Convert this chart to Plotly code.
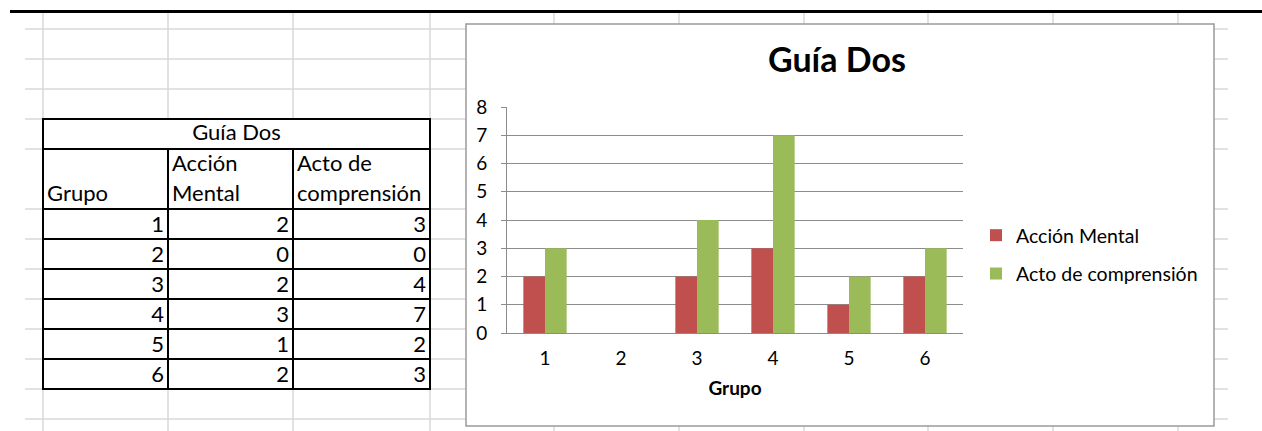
import plotly.graph_objects as go

# ---------------- data ----------------
grupos = [1, 2, 3, 4, 5, 6]
accion_mental = [2, 0, 2, 3, 1, 2]
acto_comprension = [3, 0, 4, 7, 2, 3]
series_names = ["Acción Mental", "Acto de comprensión"]
chart_title = "Guía Dos"
x_title = "Grupo"
y_ticks = [0, 1, 2, 3, 4, 5, 6, 7, 8]
table_title = "Guía Dos"
header_lines = [["", "Grupo"], ["Acción", "Mental"], ["Acto de", "comprensión"]]

# ---------------- layout constants (pixels) ----------------
W, H = 1262, 431
FONT = "Lato"
RED = "#C0504D"
GREEN = "#9BBB59"
AXIS_GRAY = "#8c8c8c"
SHEET_GRID = "#d9d9d9"


def px(x):
    return x / W


def py(y):
    return 1 - y / H


# spreadsheet grid geometry
row_heights = [30, 30, 30, 30, 60, 30, 30, 30, 30, 30, 30, 30]
row_lines = [29]
for h in row_heights:
    row_lines.append(row_lines[-1] + h)
col_lines = [43, 168, 293, 430, 554, 679, 804, 928, 1053, 1178]

# table geometry
T_X0, T_X1 = 43, 430
T_Y0 = 119
col_w = [125, 125, 137]
ROW = 30

# chart geometry
CH_X0, CH_Y0, CH_X1, CH_Y1 = 466, 24, 1214, 426
PL_X0, PL_X1 = 507, 963
PL_Y0, PL_Y1 = 333, 107  # value 0 and value 8

fig = go.Figure()

# bars
for name, vals, col in [(series_names[0], accion_mental, RED),
                        (series_names[1], acto_comprension, GREEN)]:
    fig.add_trace(go.Bar(
        x=grupos, y=vals, name=name, marker=dict(color=col, line=dict(width=0)),
        legendgroup=name, hoverinfo="skip",
    ))

# ---------------- table text (on a helper axis in table units) ----------------
n_rows = len(grupos)
tx, ty, tt, tpos = [], [], [], []
# merged title row
tx.append(sum(col_w) / 2); ty.append(0.5); tt.append(table_title); tpos.append("middle center")
# header rows (two lines)
col_left = [0, col_w[0], col_w[0] + col_w[1]]
col_right = [col_w[0], col_w[0] + col_w[1], sum(col_w)]
for c, lines in enumerate(header_lines):
    for li, s in enumerate(lines):
        if s:
            tx.append(col_left[c] + 4); ty.append(1.55 + li); tt.append(s); tpos.append("middle right")
# data rows
cols = [grupos, accion_mental, acto_comprension]
for r in range(n_rows):
    for c in range(3):
        tx.append(col_right[c] - 4); ty.append(3.58 + r); tt.append(str(cols[c][r])); tpos.append("middle left")

fig.add_trace(go.Scatter(
    x=tx, y=ty, text=tt, mode="text", textposition=tpos,
    textfont=dict(family=FONT, size=22, color="black"),
    xaxis="x2", yaxis="y2", showlegend=False, hoverinfo="skip", cliponaxis=False,
))

# ---------------- shapes ----------------
shapes = []
# spreadsheet gridlines
for y in row_lines:
    shapes.append(dict(type="line", xref="paper", yref="paper", x0=px(25), x1=px(1228),
                       y0=py(y), y1=py(y), line=dict(color=SHEET_GRID, width=1.5), layer="below"))
for x in col_lines:
    shapes.append(dict(type="line", xref="paper", yref="paper", x0=px(x), x1=px(x),
                       y0=py(13), y1=py(431), line=dict(color=SHEET_GRID, width=1.5), layer="below"))
# table white fill
T_Y1 = T_Y0 + ROW * (3 + n_rows)
shapes.append(dict(type="rect", xref="paper", yref="paper", x0=px(T_X0), x1=px(T_X1),
                   y0=py(T_Y0), y1=py(T_Y1), fillcolor="white", line=dict(width=0), layer="below"))
# table borders
tb = dict(color="black", width=2)
shapes.append(dict(type="rect", xref="paper", yref="paper", x0=px(T_X0), x1=px(T_X1),
                   y0=py(T_Y0), y1=py(T_Y1), line=tb, layer="below"))
for k in [1, 3] + [3 + i for i in range(1, n_rows)]:
    y = T_Y0 + ROW * k
    shapes.append(dict(type="line", xref="paper", yref="paper", x0=px(T_X0), x1=px(T_X1),
                       y0=py(y), y1=py(y), line=tb, layer="below"))
for x in [T_X0 + col_w[0], T_X0 + col_w[0] + col_w[1]]:
    shapes.append(dict(type="line", xref="paper", yref="paper", x0=px(x), x1=px(x),
                       y0=py(T_Y0 + ROW), y1=py(T_Y1), line=tb, layer="below"))
# chart area
shapes.append(dict(type="rect", xref="paper", yref="paper", x0=px(CH_X0), x1=px(CH_X1),
                   y0=py(CH_Y0), y1=py(CH_Y1), fillcolor="white",
                   line=dict(color="#9a9a9a", width=1.5), layer="below"))
# top black rule
shapes.append(dict(type="line", xref="paper", yref="paper", x0=px(10), x1=1,
                   y0=py(11.5), y1=py(11.5), line=dict(color="black", width=3), layer="below"))

fig.update_layout(
    width=W, height=H,
    margin=dict(l=0, r=0, t=0, b=0, autoexpand=False),
    paper_bgcolor="white", plot_bgcolor="rgba(0,0,0,0)",
    font=dict(family=FONT, color="black"),
    barmode="group", bargap=0.43, bargroupgap=0,
    shapes=shapes,
    showlegend=True,
    legend=dict(x=px(976), xanchor="left", y=py(216), yanchor="top",
                font=dict(family=FONT, size=19.5, color="black"),
                bgcolor="rgba(0,0,0,0)", tracegroupgap=10, traceorder="grouped"),
    annotations=[dict(text="<b>" + chart_title + "</b>", x=px(836.5), y=py(58),
                      xref="paper", yref="paper", xanchor="center", yanchor="middle",
                      showarrow=False, font=dict(family=FONT, size=34, color="black"))],
    xaxis=dict(domain=[px(PL_X0), px(PL_X1)], range=[0.5, 6.5], tickvals=grupos,
               ticktext=[str(g) for g in grupos], showgrid=False, zeroline=False,
               showline=True, linecolor=AXIS_GRAY, linewidth=1, ticks="",
               tickfont=dict(family=FONT, size=19, color="black"), ticklabelstandoff=8,
               title=dict(text="<b>" + x_title + "</b>", font=dict(family=FONT, size=19, color="black"),
                          standoff=13),
               fixedrange=True),
    yaxis=dict(domain=[py(PL_Y0), py(PL_Y1)], range=[y_ticks[0], y_ticks[-1]], tickvals=y_ticks,
               showgrid=True, gridcolor=AXIS_GRAY, gridwidth=1, zeroline=False,
               showline=True, linecolor=AXIS_GRAY, linewidth=1, ticks="outside", ticklen=5,
               tickcolor=AXIS_GRAY, tickfont=dict(family=FONT, size=19, color="black"),
               ticklabelstandoff=10, fixedrange=True),
    xaxis2=dict(domain=[px(T_X0), px(T_X1)], range=[0, sum(col_w)], visible=False, anchor="y2",
                fixedrange=True),
    yaxis2=dict(domain=[py(T_Y1), py(T_Y0)], range=[3 + n_rows, 0], visible=False, anchor="x2",
                fixedrange=True),
)

fig.write_html("out.html")
